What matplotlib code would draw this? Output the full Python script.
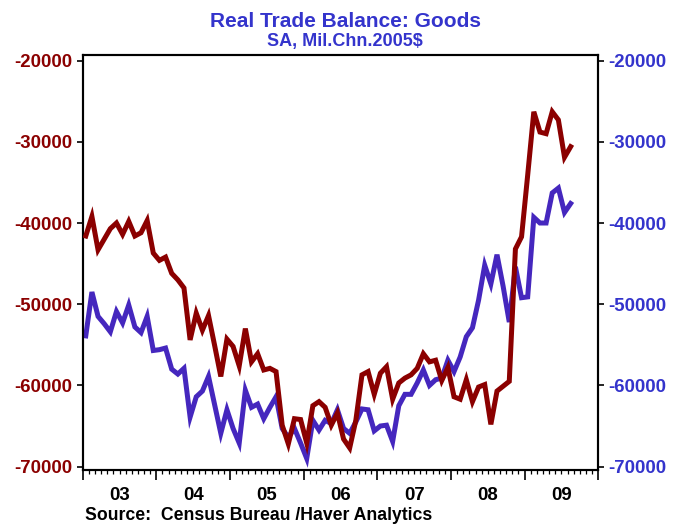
import matplotlib
matplotlib.use('Agg')
import matplotlib.pyplot as plt
import matplotlib.transforms as mtransforms
import numpy as np

# monthly data, Jan 2003 .. Aug 2009 (Mil.Chn.2005$)
red_vals = [
    -41600, -39200, -43300, -42000, -40700, -40000, -41400, -39800, -41600, -41200, -39700, -43700,
    -44600, -44200, -46200, -47000, -48000, -54400, -51100, -53200, -51400, -55100, -58900, -54300,
    -55200, -57600, -53000, -57100, -56100, -58100, -57900, -58300, -64900, -67200, -64100, -64200,
    -67100, -62500, -62000, -62700, -64900, -63400, -66600, -67700, -64300, -58700, -58300, -61100,
    -58500, -57700, -61700, -59700, -59100, -58700, -57900, -56100, -57100, -56900, -59400, -57800,
    -61400, -61700, -59300, -62000, -60200, -59900, -64800, -60700, -60100, -59500, -43200, -41700,
    -34100, -26300, -28800, -29000, -26300, -27300, -31900, -30600,
]
blue_vals = [
    -53900, -48500, -51500, -52400, -53400, -50900, -52300, -50100, -52800, -53500, -51500, -55700,
    -55600, -55400, -58000, -58600, -57900, -63900, -61400, -60700, -58900, -62400, -65900, -63000,
    -65300, -67100, -60600, -62700, -62300, -64100, -62700, -61400, -65300, -66400, -65300, -67100,
    -69000, -64300, -65500, -64300, -64700, -63000, -65300, -65900, -64500, -62900, -63000, -65600,
    -65000, -64900, -66900, -62500, -61100, -61100, -59700, -58100, -60000, -59300, -59100, -56900,
    -58300, -56500, -54000, -52900, -49500, -45200, -47500, -43900, -47800, -52200, -45400, -49200,
    -49100, -39300, -40000, -40000, -36300, -35700, -38700, -37600,
]
year_labels = ['03', '04', '05', '06', '07', '08', '09']
y_ticks = [-20000, -30000, -40000, -50000, -60000, -70000]

title = 'Real Trade Balance: Goods'
subtitle = 'SA, Mil.Chn.2005$'
source = 'Source:  Census Bureau /Haver Analytics'

RED = '#8b0000'
BLUE = '#4527be'
TXT_BLUE = '#3434cc'

plt.rcParams['font.family'] = ['Liberation Sans', 'DejaVu Sans']
plt.rcParams['font.weight'] = 'bold'
FS = 13.4

fig = plt.figure(figsize=(6.79, 5.25), dpi=100)
ax = fig.add_axes([0.1218, 0.1057, 0.7593, 0.7901])
ax2 = ax.twinx()

x = np.arange(len(red_vals)) + 0.5
ax.plot(x, red_vals, color=RED, lw=3.6, solid_joinstyle='miter', zorder=3)
ax2.plot(x, blue_vals, color=BLUE, lw=3.6, solid_joinstyle='miter', zorder=2)
ax.set_zorder(ax2.get_zorder() + 1)
ax.patch.set_visible(False)

n_years = len(year_labels)
ax.set_xlim(0, 12 * n_years)
ylim = (-70357, -19274)
ax.set_ylim(*ylim)
ax2.set_ylim(*ylim)

ax.set_xticks(np.arange(0, 12 * n_years + 1, 12))
ax.set_xticks(np.arange(0, 12 * n_years + 1, 1), minor=True)
ax.set_xticklabels([])
ax.tick_params(axis='x', which='major', direction='out', length=7, width=1.2)
ax.tick_params(axis='x', which='minor', direction='out', length=3, width=0.9)

ax.set_yticks(y_ticks)
ax.set_yticklabels([str(v) for v in y_ticks])
ax.tick_params(axis='y', direction='out', length=4.5, width=1.2, pad=3,
               labelsize=FS, labelcolor=RED)
ax2.set_yticks(y_ticks)
ax2.set_yticklabels([str(v) for v in y_ticks])
ax2.tick_params(axis='y', direction='out', length=4.5, width=1.2, pad=3,
                labelsize=FS, labelcolor=TXT_BLUE)

for a in (ax, ax2):
    for s in a.spines.values():
        s.set_linewidth(1.5)

trans = mtransforms.blended_transform_factory(ax.transData, fig.transFigure)
for k, lab in enumerate(year_labels):
    fig.text(12 * k + 6, 1 - 500 / 525, lab, transform=trans, ha='center', va='baseline',
             fontsize=FS, color='black')

fig.text(345 / 679, 1 - 27 / 525, title, ha='center', va='baseline', fontsize=15, color=TXT_BLUE)
fig.text(345 / 679, 1 - 46 / 525, subtitle, ha='center', va='baseline', fontsize=13, color=TXT_BLUE)
fig.text(85 / 679, 1 - 520 / 525, source, ha='left', va='baseline', fontsize=12.7, color='black')

fig.savefig('out.png', dpi=100)
